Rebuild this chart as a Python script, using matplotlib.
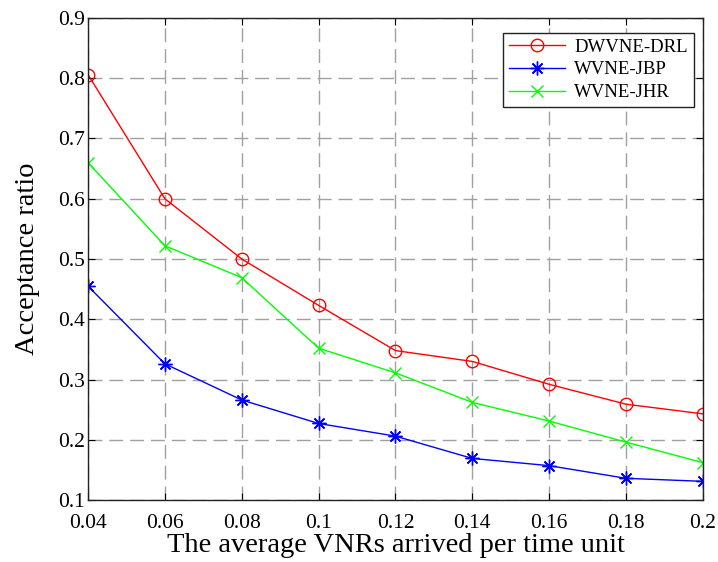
import numpy as np
import matplotlib.pyplot as plt

plt.rcParams['font.family'] = ['Liberation Serif', 'DejaVu Serif']

# data
arrival_rate = [0.04, 0.06, 0.08, 0.10, 0.12, 0.14, 0.16, 0.18, 0.20]
dwvne_drl = [0.806, 0.600, 0.500, 0.423, 0.348, 0.330, 0.292, 0.259, 0.243]
wvne_jbp = [0.455, 0.326, 0.266, 0.227, 0.206, 0.169, 0.157, 0.136, 0.131]
wvne_jhr = [0.660, 0.522, 0.469, 0.352, 0.311, 0.262, 0.231, 0.196, 0.162]

x_ticks = [0.04, 0.06, 0.08, 0.1, 0.12, 0.14, 0.16, 0.18, 0.2]
x_tick_labels = ['0.04', '0.06', '0.08', '0.1', '0.12', '0.14', '0.16', '0.18', '0.2']
y_ticks = [0.1, 0.2, 0.3, 0.4, 0.5, 0.6, 0.7, 0.8, 0.9]
y_tick_labels = ['0.1', '0.2', '0.3', '0.4', '0.5', '0.6', '0.7', '0.8', '0.9']

fig = plt.figure(figsize=(7.18, 5.62), dpi=100)
ax = fig.add_axes([0.1226, 0.1103, 0.8564, 0.8577])

ax.plot(arrival_rate, dwvne_drl, color='red', lw=1.0, marker='o', ms=9,
        mfc='none', mew=1.0, label='DWVNE-DRL')
ax.plot(arrival_rate, wvne_jbp, color='blue', lw=1.0, marker=(8, 2, 0), ms=10,
        mew=1.0, label='WVNE-JBP')
ax.plot(arrival_rate, wvne_jhr, color=(0, 1, 0), lw=1.0, marker='x', ms=8,
        mew=1.0, label='WVNE-JHR')

ax.set_xlim(0.04, 0.2)
ax.set_ylim(0.1, 0.9)
ax.set_xticks(x_ticks)
ax.set_xticklabels(x_tick_labels)
ax.set_yticks(y_ticks)
ax.set_yticklabels(y_tick_labels)
ax.tick_params(direction='in', top=True, right=True, labelsize=15.5, length=5)
ax.tick_params(axis='x', pad=10)
ax.tick_params(axis='y', pad=2)

ax.grid(True, linestyle=(0, (10, 5)), color='#a0a0a0', lw=1.0)
for s in ax.spines.values():
    s.set_color('#222222')
    s.set_linewidth(1.0)

# the reference crops the bottom of this label; keep it just inside the figure
ax.set_xlabel('The average VNRs arrived per time unit', fontsize=20.5, labelpad=0)
ax.set_ylabel('Acceptance ratio', fontsize=20.5, labelpad=13)

leg = ax.legend(loc='upper right', bbox_to_anchor=(0.985, 0.969), borderaxespad=0,
                fontsize=13.5, fancybox=False, framealpha=1, edgecolor='#222222',
                handlelength=3.0, handletextpad=0.5, labelspacing=0.3, borderpad=0.3)
leg.get_frame().set_linewidth(1.0)

fig.savefig('out.png', dpi=100)
